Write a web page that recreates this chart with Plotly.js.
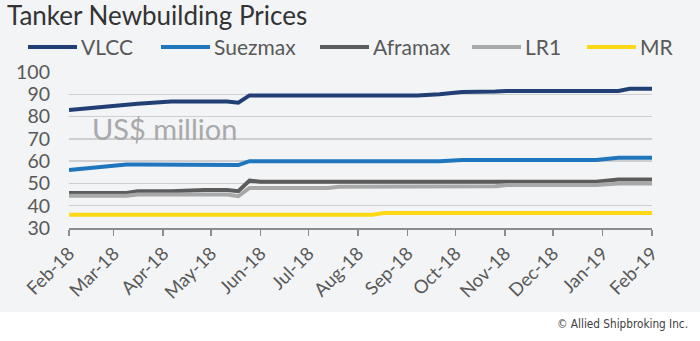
<!DOCTYPE html>
<html><head><meta charset="utf-8">
<script src="https://cdn.plot.ly/plotly-3.0.1.min.js"></script>
<style>html,body{margin:0;padding:0;background:#fff;}#chart{width:700px;height:341px;}</style>
</head><body><div id="chart"></div>
<script>
// ---- data ----
const dates = ['2018-02-01','2018-03-09','2018-03-16','2018-04-06','2018-04-27','2018-05-04','2018-05-11','2018-05-18','2018-05-25','2018-06-01','2018-07-13','2018-07-20','2018-08-10','2018-08-17','2018-09-07','2018-09-21','2018-10-05','2018-10-26','2018-11-02','2018-12-28','2019-01-11','2019-01-18','2019-02-01'];
const vlcc    = [83, 85.5, 85.75, 86.75, 86.75, 86.75, 86.75, 86.25, 89.5, 89.5, 89.5, 89.5, 89.5, 89.5, 89.5, 90, 91, 91.25, 91.5, 91.5, 91.5, 92.5, 92.5];
const suezmax = [56, 58.5, 58.5, 58.5, 58.5, 58.5, 58.5, 58.25, 60, 60, 60, 60, 60, 60, 60, 60, 60.5, 60.5, 60.5, 60.5, 61.5, 61.5, 61.5];
const aframax = [45.75, 45.75, 46.5, 46.5, 47, 47, 47, 46.5, 51.25, 50.75, 50.75, 50.75, 50.75, 50.75, 50.75, 50.75, 50.75, 50.75, 50.75, 50.75, 51.75, 51.75, 51.75];
const lr1     = [44.5, 44.5, 45, 45, 45, 45, 45, 44.25, 48, 48, 48, 48.5, 48.5, 48.75, 48.75, 48.75, 48.75, 48.75, 49.25, 49.25, 50, 50, 50];
const mr      = [36, 36, 36, 36, 36, 36, 36, 36, 36, 36, 36, 36, 36, 36.75, 36.75, 36.75, 36.75, 36.75, 36.75, 36.75, 36.75, 36.75, 36.75];
const seriesNames = ['VLCC', 'Suezmax', 'Aframax', 'LR1', 'MR'];
const seriesValues = [vlcc, suezmax, aframax, lr1, mr];
const yTicks = [30, 40, 50, 60, 70, 80, 90, 100];

// ---- styling ----
const colors = ['#213f75', '#1f76bd', '#5c5c5c', '#a8a8a8', '#fdd816'];
const W = 700, H = 341, L = 69, R = 48, T = 72, B = 113;
const pw = W - L - R, ph = H - T - B;
const px = v => (v - L) / pw;
const py = v => (H - B - v) / ph;
const FONT = 'Lato, "Open Sans", sans-serif';

const traces = seriesNames.map((n, i) => ({
  type: 'scatter', mode: 'lines', name: n, x: dates, y: seriesValues[i],
  line: {color: colors[i], width: 4}, showlegend: false, hoverinfo: 'skip'
}));

// custom legend (line samples + labels)
const legStarts = [28, 161, 320, 472, 587];
const legLen = 49, legY = 47;
const shapes = [{
  type: 'rect', xref: 'paper', yref: 'paper', layer: 'below',
  x0: px(0), x1: px(W), y0: py(312), y1: py(0),
  fillcolor: '#f2f4f6', line: {width: 0}
}];
const annotations = [];
seriesNames.forEach((n, i) => {
  shapes.push({type: 'line', xref: 'paper', yref: 'paper',
    x0: px(legStarts[i]), x1: px(legStarts[i] + legLen), y0: py(legY), y1: py(legY),
    line: {color: colors[i], width: 4}});
  annotations.push({xref: 'paper', yref: 'paper', x: px(legStarts[i] + legLen + 2), y: py(legY),
    xanchor: 'left', yanchor: 'middle', showarrow: false, text: n,
    font: {family: FONT, size: 21, color: '#595959'}});
});
annotations.push({xref: 'paper', yref: 'paper', x: px(164), y: py(128), xanchor: 'center', yanchor: 'middle',
  showarrow: false, text: 'US$ million', font: {family: FONT, size: 29, color: '#a9a9a9'}});
annotations.push({xref: 'paper', yref: 'paper', x: px(690), y: py(324), xanchor: 'right', yanchor: 'middle',
  showarrow: false, text: '© Allied Shipbroking Inc.', font: {family: '"Liberation Sans Narrow", "DejaVu Sans Condensed", sans-serif', size: 11.7, color: '#404040'}});

const layout = {
  width: W, height: H,
  margin: {l: L, r: R, t: T, b: B, pad: 0},
  paper_bgcolor: '#ffffff', plot_bgcolor: 'rgba(0,0,0,0)',
  font: {family: FONT, color: '#595959'},
  title: {text: 'Tanker Newbuilding Prices', x: 7 / W, xanchor: 'left', xref: 'container',
    y: 1 - 7 / H, yanchor: 'top', yref: 'container',
    font: {family: FONT, size: 26, color: '#333333'}},
  showlegend: false,
  xaxis: {type: 'date', range: ['2018-02-01', '2019-02-01'], tick0: '2018-02-01', dtick: 'M1',
    tickformat: '%b-%y', tickangle: -45, tickfont: {family: FONT, size: 18.5, color: '#595959'},
    showgrid: false, zeroline: false, showline: true, linecolor: '#8c8c8c', linewidth: 1.5,
    ticks: 'outside', ticklen: 6, tickwidth: 1.5, tickcolor: '#8c8c8c', fixedrange: true},
  yaxis: {range: [30, 100], tickvals: yTicks, showgrid: true, gridcolor: '#cfcfcf', gridwidth: 1.5,
    zeroline: false, showline: false, ticks: '', ticklabelstandoff: 18,
    tickfont: {family: FONT, size: 19.5, color: '#595959'}, fixedrange: true},
  shapes: shapes, annotations: annotations
};
Plotly.newPlot('chart', traces, layout, {displayModeBar: false, staticPlot: true});
</script>
</body></html>
